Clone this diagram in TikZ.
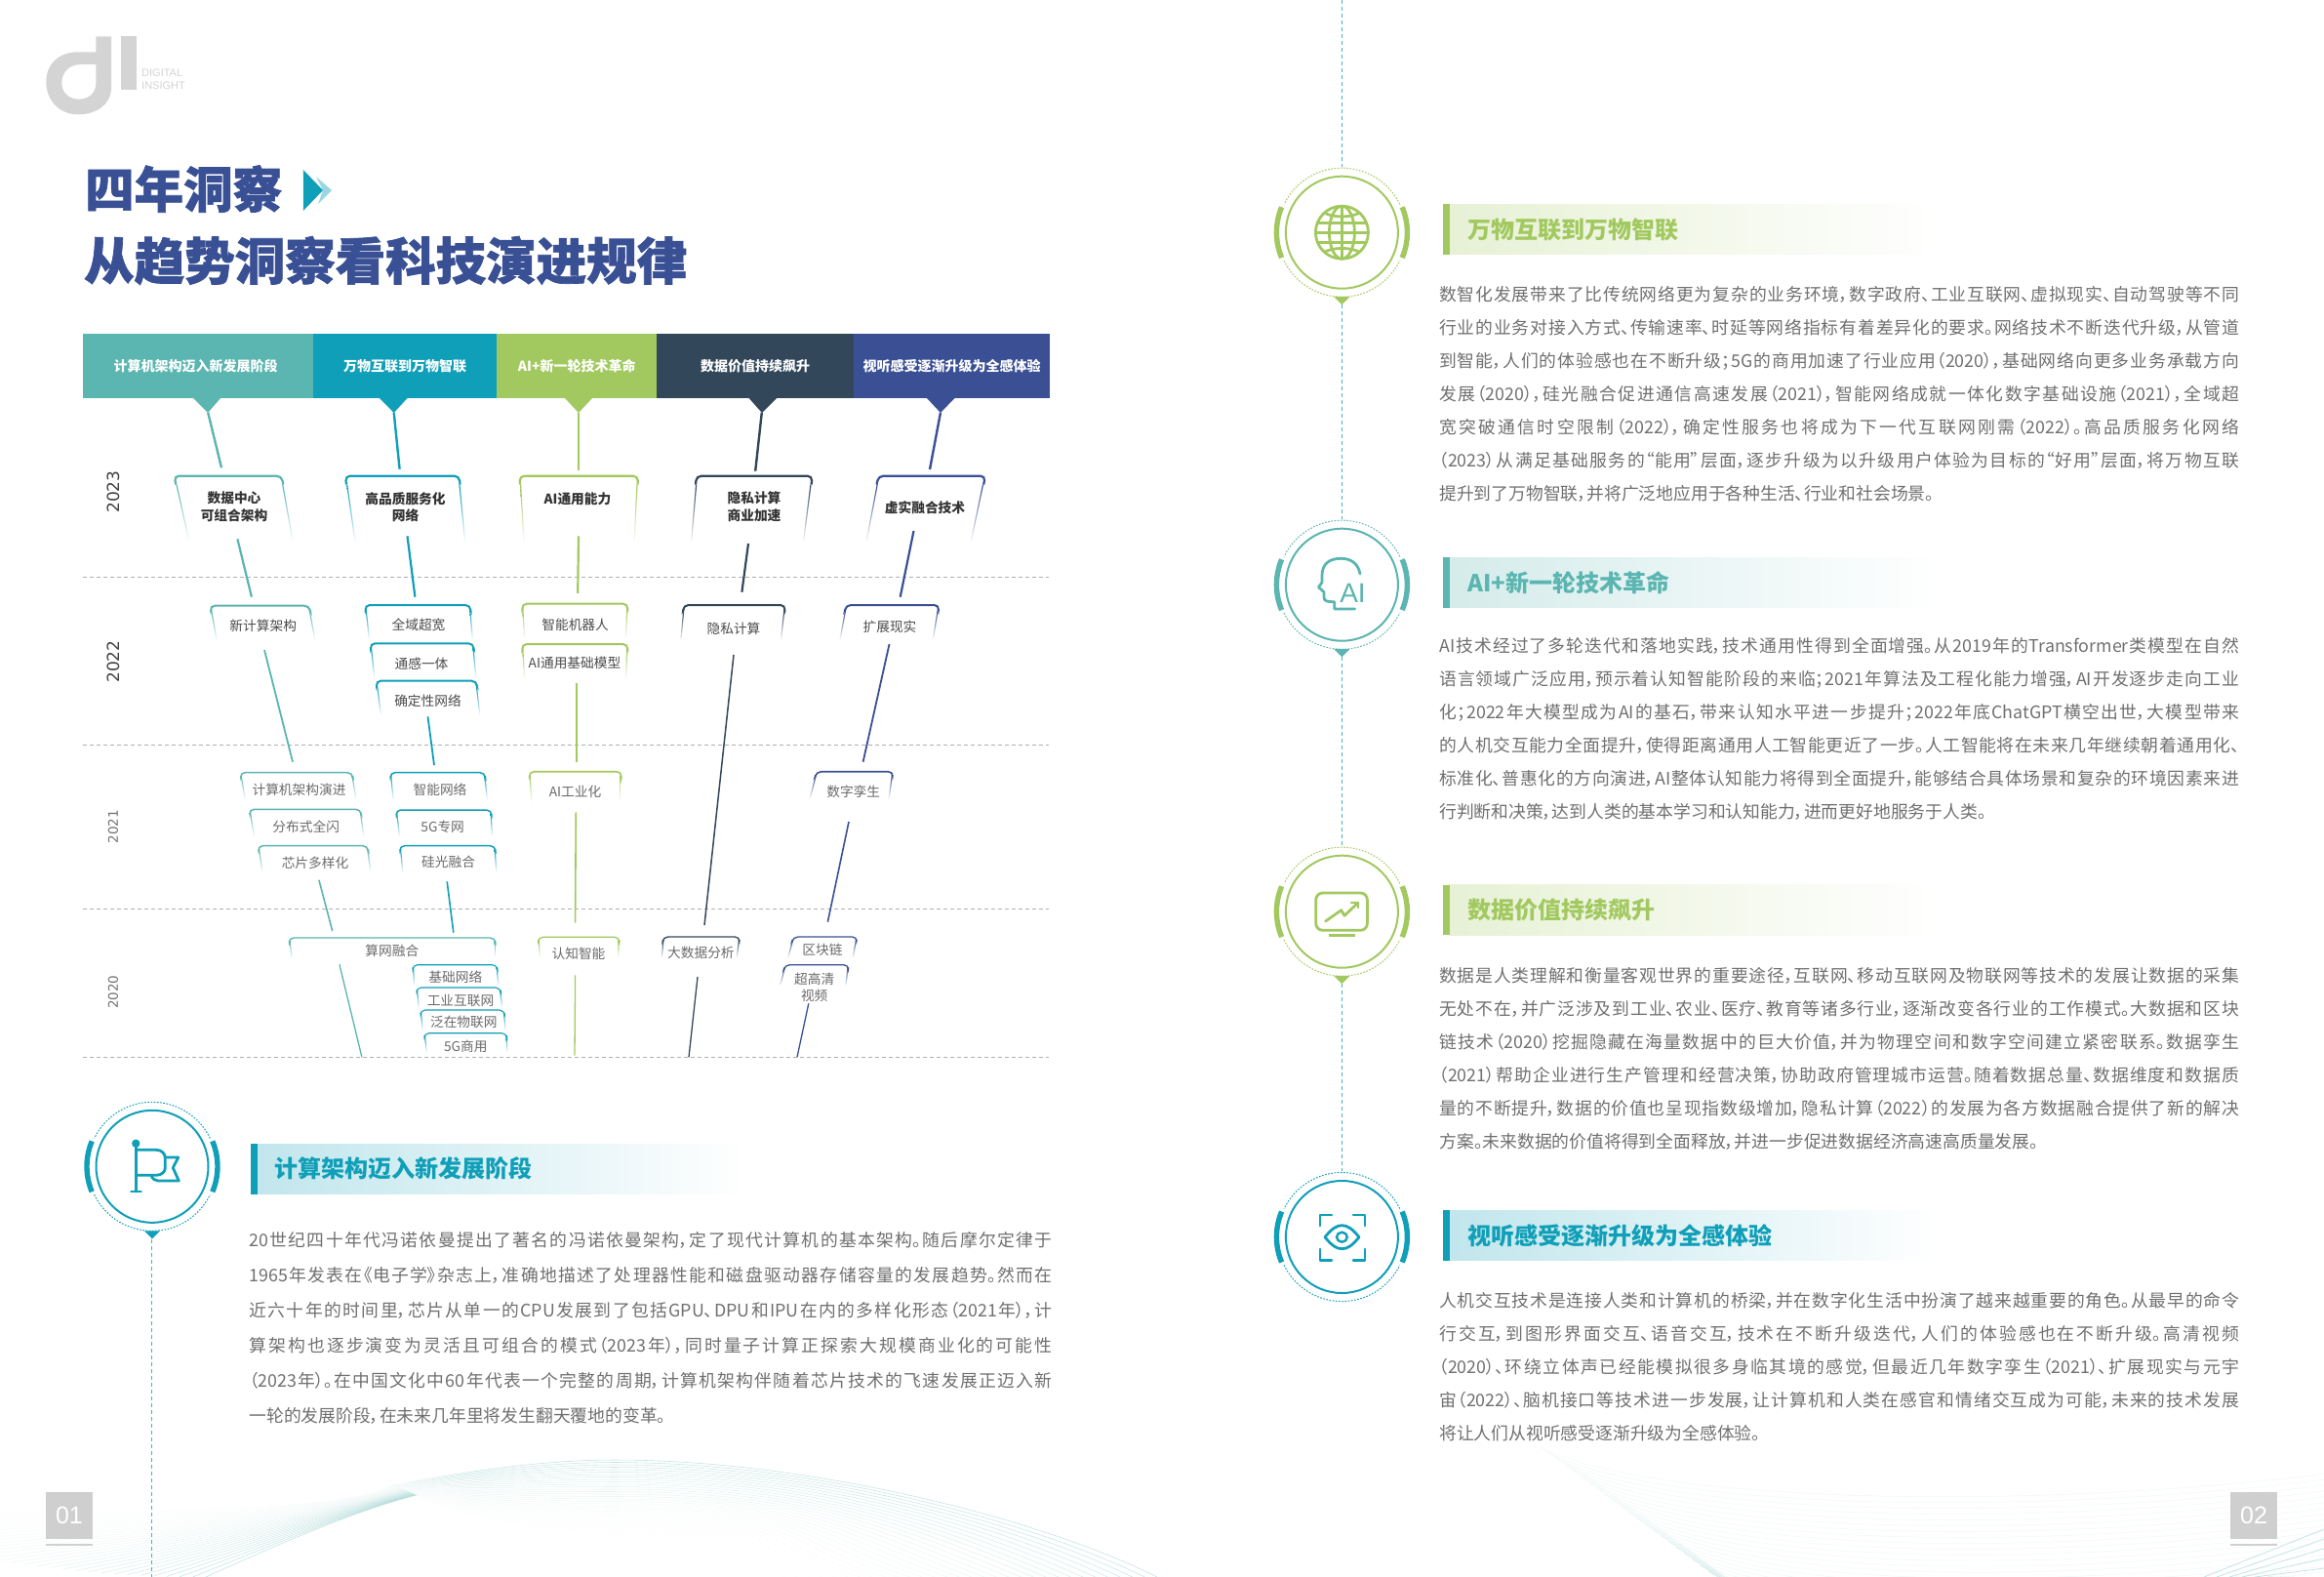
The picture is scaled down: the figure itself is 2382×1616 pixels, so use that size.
\documentclass[tikz,border=0pt]{standalone}
\usepackage{fontspec}
\usetikzlibrary{calc,fadings}
\setmainfont{Noto Sans CJK SC}[RawFeature={+palt}]
\newfontfamily\heavyfont{Noto Sans CJK SC}[BoldFeatures={FakeBold=1.3}]
\newfontfamily\yearfont{DejaVu Sans}
\newfontfamily\latinfont{Liberation Sans}
\XeTeXlinebreaklocale "zh"
\XeTeXlinebreakskip=0pt plus 5pt minus 1pt
\tolerance=10000 \hbadness=10000 \hfuzz=20pt
\definecolor{cA}{HTML}{5BB5B0}
\definecolor{cB}{HTML}{109FB8}
\definecolor{cC}{HTML}{A2C95F}
\definecolor{cD}{HTML}{33475B}
\definecolor{cE}{HTML}{3B5094}
\definecolor{titleblue}{HTML}{3A5095}
\definecolor{logogray}{HTML}{D4D4D4}
\definecolor{numgray}{HTML}{CFCFCF}
\definecolor{gridgray}{HTML}{B0B0B0}
\definecolor{bodygray}{HTML}{707070}
\definecolor{wavec}{HTML}{6FBFBA}
\tikzset{
  x=1pt,y=-1pt,
  hdrbox/.style={anchor=north west,inner sep=0pt,minimum height=66pt,text=white,
     font=\fontsize{14}{17}\selectfont\bfseries},
  tA/.style={align=center,inner sep=0pt,text=black!80,font=\fontsize{13.7}{17.6}\selectfont\bfseries},
  tB/.style={align=center,inner sep=0pt,text=black!70,font=\fontsize{13.7}{17.6}\selectfont},
  tC/.style={align=center,inner sep=0pt,text=black!58,font=\fontsize{13.7}{17}\selectfont},
  yearA/.style={rotate=90,inner sep=0pt,text=black!75,font=\yearfont\fontsize{17}{20}\selectfont},
  yearB/.style={rotate=90,inner sep=0pt,text=black!55,font=\yearfont\fontsize{13.5}{16}\selectfont},
  gridline/.style={gridgray,line width=1.1pt,dash pattern=on 4pt off 3pt},
  bartitle/.style={anchor=west,inner sep=0pt,font=\fontsize{24}{28}\selectfont\bfseries},
  linkdash/.style={line width=1pt,dash pattern=on 4pt off 3pt},
  iconline/.style={line width=2.8pt,line cap=round,line join=round},
  pagenum/.style={fill=numgray,text=white,minimum width=48pt,minimum height=48pt,inner sep=0pt,
     font=\latinfont\fontsize{25}{28}\selectfont},
}
% body text helpers
\newcommand\Ln[1]{\noindent #1\par}
\newcommand\Lt[1]{{\parfillskip=0pt plus 1fil\noindent #1\par}}
\newcommand\para[6]{\node[inner sep=0pt,anchor=base west,text=bodygray] (#1) at (#2,#3)
  {\parbox[t]{#4pt}{\fontsize{17.8}{#5pt}\selectfont\parfillskip=0pt\parskip=0pt\lineskiplimit=-100pt #6}};}
% connector between two named free ends
\newcommand\link[7]{\coordinate (#1a) at (#4,#5); \coordinate (#1b) at (#6,#7);
  \draw[#2,line width=#3pt] (#1a) -- (#1b);}
% card outline: colour, top width, xTL,xTR,yT,xBL,xBR,yB
\newcommand\card[8]{%
  \coordinate (cl) at ($(#3,#5)!0.13!(#6,#8)$);
  \coordinate (cr) at ($(#4,#5)!0.13!(#7,#8)$);
  \shade[top color=#1,bottom color=white] (cl) -- ++(1.2,0) -- (#6+1.2,#8) -- (#6,#8) -- cycle;
  \shade[top color=#1,bottom color=white] (cr) -- ++(-1.2,0) -- (#7-1.2,#8) -- (#7,#8) -- cycle;
  \draw[#1,line width=#2pt,rounded corners=5pt] (cl) -- (#3,#5) -- (#4,#5) -- (cr);
}
% round icon frame
\newcommand\ring[4]{%
  \coordinate (#1) at (#2,#3);
  \draw[#4,line width=2pt] (#1) circle[radius=57.5pt];
  \draw[#4,line width=1pt,dash pattern=on 1.6pt off 1.6pt] ($(#1)+(26:66pt)$) arc[start angle=26,end angle=154,radius=66pt];
  \draw[#4,line width=1pt,dash pattern=on 1.6pt off 1.6pt] ($(#1)+(206:66pt)$) arc[start angle=206,end angle=334,radius=66pt];
  \draw[#4,line width=5.4pt] ($(#1)+(-22.8:67pt)$) arc[start angle=-22.8,end angle=22.8,radius=67pt];
  \draw[#4,line width=5.4pt] ($(#1)+(157.2:67pt)$) arc[start angle=157.2,end angle=202.8,radius=67pt];
}
\newcommand\tip[2]{\fill[#1] ($(#2)+(-8,66)$) -- ($(#2)+(8,66)$) -- ($(#2)+(0,74)$) -- cycle;}
% heading bar
\newcommand\headbar[4]{%
  \shade[left color=#1!26,right color=white] (#2+6,#3) rectangle (#2+510,#3+51.5);
  \fill[#1] (#2,#3) rectangle (#2+7,#3+51.5);
}
\begin{document}
\begin{tikzpicture}
\path[use as bounding box] (0,0) rectangle (2382,1616);
\clip (0,0) rectangle (2382,1616);
\fill[white] (0,0) rectangle (2382,1616);

% ---- background waves, left page: the part right of the pinch
\foreach \t in {0,...,30}{
  \pgfmathsetmacro\u{\t/30}
  \pgfmathsetmacro\opr{0.015+0.42*(1-\u)*(1-\u)}
  \pgfmathsetmacro\Px{415+24*(\u-0.5)}
  \pgfmathsetmacro\Py{1527+10*(\u-0.5)}
  \pgfmathsetmacro\pk{1496+75*\u}
  \pgfmathsetmacro\Ex{1186-380*\u}
  \draw[wavec,line width=0.55pt,opacity=\opr] (\Px,\Py) .. controls (480,1527+0.65*\pk-0.65*1527) and (560,\pk) .. (630,\pk)
     .. controls (830,\pk) and (\Ex-120,1556+30*\u) .. (\Ex,1616);
}
\fill[white,path fading=east] (395,1480) rectangle (490,1575);
% the part left of the pinch
\foreach \t in {0,...,30}{
  \pgfmathsetmacro\u{\t/30}
  \pgfmathsetmacro\opl{0.03+0.42*\u*\u}
  \pgfmathsetmacro\Lx{211-400*(1-\u)}
  \pgfmathsetmacro\Ly{1616-60*(1-\u)*(1-\u)}
  \pgfmathsetmacro\Px{415+24*(\u-0.5)}
  \pgfmathsetmacro\Py{1527+10*(\u-0.5)}
  \draw[wavec,line width=0.55pt,opacity=\opl] (\Px,\Py) .. controls (350+20*\u,1545+\u) and (270+20*\u,1548+32*\u) .. (\Lx,\Ly);
}
% ---- background waves, right page
\foreach \t in {0,...,22}{
  \pgfmathsetmacro\u{\t/22}
  \pgfmathsetmacro\Sx{1579+180*\u}
  \pgfmathsetmacro\Sy{1483+133*\u}
  \pgfmathsetmacro\Ey{1505+130*\u}
  \pgfmathsetmacro\opd{0.02+0.35*\u*\u*\u}
  \draw[wavec,line width=0.55pt,opacity=0.09] (\Sx,\Sy) .. controls (\Sx+130,\Sy+65) and (2150,\Ey+40) .. (2420,\Ey);
  \draw[wavec,line width=0.6pt,opacity=\opd] (\Sx,\Sy) -- ++(48,28);
}
\foreach \t in {0,...,7}{
  \pgfmathsetmacro\bx{2259+13*\t}
  \pgfmathsetmacro\by{1567+10*\t}
  \draw[wavec,line width=0.7pt,opacity=0.45] (\bx,1616) -- (2382,\by);
}

% ---- logo
\fill[logogray,even odd rule] (98.3,37.3) -- (114,37.3) -- (114,92)
   .. controls (113,107) and (99,117.3) .. (80,117.3)
   .. controls (60,117.3) and (47.3,102) .. (47.3,84)
   .. controls (47.3,66) and (60,53.3) .. (80,53.3) -- (98.3,53.3) -- cycle
   (98.3,66) -- (83,66) .. controls (71,66) and (63.3,74) .. (63.3,85)
   .. controls (63.3,95) and (71,101.7) .. (81,101.7)
   .. controls (91,101.7) and (98.3,95) .. (98.3,86) -- cycle;
\fill[logogray] (124,37.3) rectangle (140,91.7);
\node[anchor=west,inner sep=0pt,text=logogray,font=\latinfont\fontsize{11}{13}\selectfont] (logoa) at (145,74.3) {DIGITAL};
\node[anchor=west,inner sep=0pt,text=logogray,font=\latinfont\fontsize{11}{13}\selectfont] (logob) at (145,87.3) {INSIGHT};

% ---- title
\node[anchor=west,inner sep=0pt,text=titleblue,font=\heavyfont\fontsize{50.5}{56}\selectfont\bfseries] (title1) at (87,193.5) {四年洞察};
\node[anchor=west,inner sep=0pt,text=titleblue,font=\heavyfont\fontsize{51.5}{56}\selectfont\bfseries] (title2) at (86,267) {从趋势洞察看科技演进规律};
\fill[cB] (310.8,174) -- (331,195) -- (310.8,216) -- cycle;
\fill[cB!42] (324,181) -- (340,195) -- (326,209) -- (331,195) -- cycle;

% ---- column headers
\node[hdrbox,fill=cA,minimum width=236pt] (h1) at (85,342) {\hspace*{-5pt}计算机架构迈入新发展阶段};
\node[hdrbox,fill=cB,minimum width=188pt] (h2) at (321,342) {万物互联到万物智联};
\node[hdrbox,fill=cC,minimum width=164pt] (h3) at (509,342) {AI+新一轮技术革命};
\node[hdrbox,fill=cD,minimum width=202pt] (h4) at (673,342) {数据价值持续飙升};
\node[hdrbox,fill=cE,minimum width=201pt] (h5) at (875,342) {视听感受逐渐升级为全感体验};
\fill[cA] (198,408) -- (226,408) -- (213,423) -- cycle;
\fill[cB] (389,408) -- (417.5,408) -- (403.7,423) -- cycle;
\fill[cC] (579,408) -- (607,408) -- (593,423) -- cycle;
\fill[cD] (767.6,408) -- (796,408) -- (781,423) -- cycle;
\fill[cE] (950,408) -- (978.5,408) -- (964,423) -- cycle;

% ---- grid lines
\coordinate (g1a) at (85,591.3); \coordinate (g1b) at (1075,591.3);
\coordinate (g2a) at (85,763.3); \coordinate (g2b) at (1075,763.3);
\coordinate (g3a) at (85,931.3); \coordinate (g3b) at (1075,931.3);
\coordinate (g4a) at (85,1083.3); \coordinate (g4b) at (1075,1083.3);
\draw[gridline] (g1a) -- (g1b);
\draw[gridline] (g2a) -- (g2b);
\draw[gridline] (g3a) -- (g3b);
\draw[gridline] (g4a) -- (g4b);

% ---- years
\node[yearA] (y23) at (116,504) {2023};
\node[yearA] (y22) at (116,678) {2022};
\node[yearB] (y21) at (116,847.3) {2021};
\node[yearB] (y20) at (116,1016.7) {2020};

% ---- connectors
\link{a1}{cA}{2.4}{213.2}{422.7}{227}{479.3}
\link{a2}{cB}{2.4}{403.7}{422.7}{409.6}{480.7}
\link{a3}{cC}{2.4}{593}{422.7}{593}{481.7}
\link{a4}{cD}{2.4}{780.8}{422.7}{774.2}{482.7}
\link{a5}{cE}{2.4}{964}{422.7}{953}{481}
\link{b1}{cA}{2.2}{243.4}{552.3}{257.9}{611.7}
\link{b2}{cB}{2.2}{417.5}{549.3}{425.4}{611.7}
\link{b3}{cC}{2.2}{593}{549.3}{592.2}{608}
\link{b4}{cD}{2.2}{767}{557}{760.4}{606.7}
\link{b5}{cE}{2.2}{936.5}{544}{922.7}{611.7}
\link{c1}{cA}{1.8}{271}{666}{300}{780.7}
\link{c2}{cB}{1.8}{438.5}{734.3}{445}{784}
\link{c3}{cC}{1.8}{591}{700}{591}{780.7}
\link{c4}{cD}{1.5}{752}{671}{722}{948}
\link{c5}{cE}{1.8}{911.5}{660}{884.6}{780.7}
\link{d1}{cA}{1.6}{326.9}{901.7}{340.7}{954}
\link{d2}{cB}{1.6}{458.2}{903.3}{464.8}{955.7}
\link{d3}{cC}{1.6}{590.3}{832.3}{589.6}{945.7}
\link{d5}{cE}{1.6}{870}{842}{848.4}{944.7}
\link{e1}{cA}{1.3}{347.9}{988.3}{370.9}{1083.3}
\link{e3}{cC}{1.3}{589.6}{999.3}{589}{1081.7}
\link{e4}{cD}{1.3}{715}{1001}{706}{1083.3}
\link{e5}{cE}{1.3}{828.8}{1028.3}{817}{1083.3}

% ---- 2023 cards
\card{cA}{2.2}{178.4}{288.7}{487.7}{193.5}{301}{556}
\card{cB}{2.2}{353.8}{470.7}{487.7}{363.6}{477.3}{556}
\card{cC}{2.2}{532.5}{654}{487.7}{536.4}{650.7}{556}
\card{cD}{2.2}{713.8}{832.7}{487.7}{707.9}{824}{556}
\card{cE}{2.2}{900.3}{1010}{487.7}{887.2}{995.6}{556}
\node[tA] (n11) at (240,519.5) {数据中心\\可组合架构};
\node[tA] (n12) at (415.5,519.5) {高品质服务化\\网络};
\node[tA] (n13) at (592,511.5) {AI通用能力};
\node[tA] (n14) at (773,519.5) {隐私计算\\商业加速};
\node[tA] (n15) at (948,520.5) {虚实融合技术};

% ---- 2022 cards
\card{cA}{2}{215.2}{317}{620.7}{221.7}{323.6}{656.7}
\card{cB}{2}{374}{482}{620}{378}{485}{655.7}
\card{cB}{2}{379.4}{485.2}{659.3}{383.3}{488.4}{695}
\card{cB}{2}{385.3}{488.4}{697.7}{390}{492.4}{733.3}
\card{cC}{2}{535}{643.5}{618.7}{537}{642}{655}
\card{cC}{2}{535}{643.5}{660}{537}{642}{696.7}
\card{cD}{2}{700.6}{805}{620}{697.3}{801}{656}
\card{cE}{2}{867}{962.7}{620}{860.3}{956.8}{656}
\node[tB] (n21) at (269.7,641.5) {新计算架构};
\node[tB] (n22) at (429,640) {全域超宽};
\node[tB] (n23) at (432,680) {通感一体};
\node[tB] (n24) at (438.5,718.5) {确定性网络};
\node[tB] (n25) at (589.6,640) {智能机器人};
\node[tB] (n26) at (589,679.5) {AI通用基础模型};
\node[tB] (n27) at (752,644) {隐私计算};
\node[tB] (n28) at (912,642.5) {扩展现实};

% ---- 2021 cards
\card{cA}{1.5}{246}{361}{791.7}{250.7}{365.6}{819.3}
\card{cA}{1.5}{255.3}{369.6}{829.3}{260}{373.5}{857.3}
\card{cA}{1.5}{264.4}{376.8}{866.7}{268.4}{380.7}{894.3}
\card{cB}{1.5}{399.8}{497}{791.7}{402.4}{500}{819.3}
\card{cB}{1.5}{405.7}{503.6}{830}{409}{505}{857.3}
\card{cB}{1.5}{409.6}{507.5}{866.7}{412.3}{509.5}{894.3}
\card{cC}{1.6}{542.3}{637}{790.7}{544.3}{636.3}{821.7}
\card{cE}{1.6}{836.7}{915.5}{790.7}{829.4}{911.6}{819}
\node[tC] (n31) at (306.5,809.5) {计算机架构演进};
\node[tC] (n32) at (313.7,847.5) {分布式全闪};
\node[tC] (n33) at (323,884.5) {芯片多样化};
\node[tC] (n34) at (451,809.5) {智能网络};
\node[tC] (n35) at (453.7,847.5) {5G专网};
\node[tC] (n36) at (459.6,883.5) {硅光融合};
\node[tC] (n37) at (589.6,811.5) {AI工业化};
\node[tC] (n38) at (874.7,811.5) {数字孪生};

% ---- 2020 cards
\card{cA}{1.4}{296}{507.5}{961}{298.6}{508.8}{982.3}
\card{cB}{1.1}{422.8}{509.5}{988.7}{424}{511.5}{1010}
\card{cB}{1.1}{426.7}{512.8}{1012}{428.7}{515.4}{1032.7}
\card{cB}{1.1}{430.7}{516.8}{1035}{432.6}{518.7}{1056}
\card{cB}{1.1}{434.6}{519.4}{1058.7}{436.6}{520.7}{1078.3}
\card{cC}{1.3}{551.5}{635}{960.3}{552.8}{634.3}{981.7}
\card{cD}{1.3}{679.6}{758.4}{960}{677.7}{755.8}{981.7}
\card{cE}{1.3}{813}{878.7}{960}{807}{874.7}{981.7}
\card{cE}{1.3}{804.5}{870}{988.7}{799}{867.5}{1010}
\node[tC] (n41) at (401.8,974.5) {算网融合};
\node[tC] (n42) at (466.8,1001.5) {基础网络};
\node[tC] (n43) at (472,1025) {工业互联网};
\node[tC] (n44) at (475.3,1047.5) {泛在物联网};
\node[tC] (n45) at (477.3,1072.5) {5G商用};
\node[tC] (n46) at (593,977.5) {认知智能};
\node[tC] (n47) at (718.4,976.5) {大数据分析};
\node[tC] (n48) at (843,973.5) {区块链};
\node[tC] (n49) at (834.7,1011.5) {超高清\\视频};

% ---- left section
\ring{ic1}{156}{1195.3}{cB}{}
\tip{cB}{ic1}
\coordinate (ld1) at (155.7,1270); \coordinate (ld2) at (155.7,1616);
\draw[cB!80,linkdash] (ld1) -- (ld2);
\draw[cB,iconline] (139.3,1172) -- (139.3,1221);
\fill[cB] (139.3,1171.7) circle[radius=4.2pt];
\draw[cB,iconline] (134.5,1221) -- (144.5,1221);
\draw[cB,iconline] (139.3,1178.3) -- (160,1178.3) .. controls (165.5,1178.3) and (169.3,1182) .. (169.3,1186.7)
   -- (169.3,1196.7) .. controls (169.3,1201) and (165.5,1204.3) .. (160,1204.3) -- (139.3,1204.3);
\draw[cB,iconline] (169.3,1186) -- (182.7,1186) -- (177.3,1196.7) -- (183.3,1210) -- (161.7,1210) .. controls (158.5,1210) and (156,1207.5) .. (155,1204.3);
\headbar{cB}{256.6}{1172}{}
\node[bartitle,text=cB] (bt1) at (281.5,1197.3) {计算架构迈入新发展阶段};
\para{body1}{255.3}{1277.5}{823}{36}{%
\Ln{20世纪四十年代冯诺依曼提出了著名的冯诺依曼架构，定了现代计算机的基本架构。随后摩尔定律于}
\Ln{1965年发表在《电子学》杂志上，准确地描述了处理器性能和磁盘驱动器存储容量的发展趋势。然而在}
\Ln{近六十年的时间里，芯片从单一的CPU发展到了包括GPU、DPU和IPU在内的多样化形态（2021年），计}
\Ln{算架构也逐步演变为灵活且可组合的模式（2023年），同时量子计算正探索大规模商业化的可能性}
\Ln{（2023年）。在中国文化中60年代表一个完整的周期，计算机架构伴随着芯片技术的飞速发展正迈入新}
\Lt{一轮的发展阶段，在未来几年里将发生翻天覆地的变革。}}

% ---- right column spine
\ring{ic2}{1375.4}{238.2}{cC}{}
\ring{ic3}{1375.4}{599.2}{cA}{}
\ring{ic4}{1375.4}{934.2}{cC}{}
\ring{ic5}{1375.4}{1267.5}{cB}{}
\tip{cC}{ic2}
\tip{cA}{ic3}
\tip{cC}{ic4}
\coordinate (sp0) at (1375.4,0); \coordinate (sp1) at (1375.4,171);
\coordinate (sp2) at (1375.4,312); \coordinate (sp3) at (1375.4,532);
\coordinate (sp4) at (1375.4,673); \coordinate (sp5) at (1375.4,867);
\coordinate (sp6) at (1375.4,1008); \coordinate (sp7) at (1375.4,1200);
\draw[cB!80,linkdash] (sp0) -- (sp1);
\draw[cB!80,linkdash] (sp2) -- (sp3);
\draw[cB!80,linkdash] (sp4) -- (sp5);
\draw[cB!80,linkdash] (sp6) -- (sp7);

% globe icon
\draw[cC,iconline] (ic2) circle[radius=27pt];
\draw[cC,iconline] (ic2) ellipse[x radius=13pt,y radius=27pt];
\draw[cC,iconline] ($(ic2)+(0,-27)$) -- ($(ic2)+(0,27)$);
\draw[cC,iconline] ($(ic2)+(-27,0)$) -- ($(ic2)+(27,0)$);
\draw[cC,iconline] ($(ic2)+(-25,-10)$) -- ($(ic2)+(25,-10)$);
\draw[cC,iconline] ($(ic2)+(-25,10)$) -- ($(ic2)+(25,10)$);
\draw[cC,iconline] ($(ic2)+(-18,-20)$) .. controls ($(ic2)+(-8,-15)$) and ($(ic2)+(8,-15)$) .. ($(ic2)+(18,-20)$);
\draw[cC,iconline] ($(ic2)+(-18,20)$) .. controls ($(ic2)+(-8,15)$) and ($(ic2)+(8,15)$) .. ($(ic2)+(18,20)$);

% AI head icon
\draw[cA,iconline] (1394,588) .. controls (1392,577) and (1384,572.3) .. (1374.7,572.3)
  .. controls (1362,572.3) and (1355,578) .. (1355,590) -- (1355,596.7) -- (1351.5,601.7) -- (1357,606.7) -- (1357,612)
  .. controls (1357,616) and (1360,616.7) .. (1367.7,616.7) -- (1367.7,624) -- (1388.7,624);
\node[inner sep=0pt,text=cA,font=\latinfont\fontsize{28}{30}\selectfont] (aitext) at (1386.5,608) {AI};

% chart icon
\draw[cC,iconline,rounded corners=7pt] (1348.7,915) rectangle (1401.4,953.3);
\draw[cC,line width=3.4pt] (1362,958.3) -- (1388.7,958.3);
\draw[cC,iconline] (1358.6,944) -- (1374.7,932.7) -- (1378,938.3) -- (1392,925);
\draw[cC,iconline] (1385,925) -- (1392,925) -- (1392,930);

% eye icon
\draw[cB,iconline] (1353,1256) -- (1353,1245) -- (1365,1245);
\draw[cB,iconline] (1387,1245) -- (1399,1245) -- (1399,1256);
\draw[cB,iconline] (1353,1280) -- (1353,1291.7) -- (1365,1291.7);
\draw[cB,iconline] (1387,1291.7) -- (1399,1291.7) -- (1399,1280);
\draw[cB,iconline] (1358,1267.7) .. controls (1365,1259) and (1370,1255.7) .. (1375.4,1255.7)
  .. controls (1381,1255.7) and (1386,1259) .. (1393,1267.7)
  .. controls (1386,1276.4) and (1381,1279.7) .. (1375.4,1279.7)
  .. controls (1370,1279.7) and (1365,1276.4) .. (1358,1267.7) -- cycle;
\draw[cB,line width=2.4pt] (1375.4,1267.7) ellipse[x radius=5.4pt,y radius=5pt];

% ---- right sections
\headbar{cC}{1479}{209.3}{}
\node[bartitle,text=cC] (bt2) at (1504.5,235) {万物互联到万物智联};
\para{body2}{1475}{308}{820}{34}{%
\Ln{数智化发展带来了比传统网络更为复杂的业务环境，数字政府、工业互联网、虚拟现实、自动驾驶等不同}
\Ln{行业的业务对接入方式、传输速率、时延等网络指标有着差异化的要求。网络技术不断迭代升级，从管道}
\Ln{到智能，人们的体验感也在不断升级；5G的商用加速了行业应用（2020），基础网络向更多业务承载方向}
\Ln{发展（2020），硅光融合促进通信高速发展（2021），智能网络成就一体化数字基础设施（2021），全域超}
\Ln{宽突破通信时空限制（2022），确定性服务也将成为下一代互联网刚需（2022）。高品质服务化网络}
\Ln{（2023）从满足基础服务的“能用”层面，逐步升级为以升级用户体验为目标的“好用”层面，将万物互联}
\Lt{提升到了万物智联，并将广泛地应用于各种生活、行业和社会场景。}}

\headbar{cA}{1479}{571}{}
\node[bartitle,text=cA] (bt3) at (1504.5,596.7) {AI+新一轮技术革命};
\para{body3}{1475}{668.7}{820}{34}{%
\Ln{AI技术经过了多轮迭代和落地实践，技术通用性得到全面增强。从2019年的Transformer类模型在自然}
\Ln{语言领域广泛应用，预示着认知智能阶段的来临；2021年算法及工程化能力增强，AI开发逐步走向工业}
\Ln{化；2022年大模型成为AI的基石，带来认知水平进一步提升；2022年底ChatGPT横空出世，大模型带来}
\Ln{的人机交互能力全面提升，使得距离通用人工智能更近了一步。人工智能将在未来几年继续朝着通用化、}
\Ln{标准化、普惠化的方向演进，AI整体认知能力将得到全面提升，能够结合具体场景和复杂的环境因素来进}
\Lt{行判断和决策，达到人类的基本学习和认知能力，进而更好地服务于人类。}}

\headbar{cC}{1479}{906.5}{}
\node[bartitle,text=cC] (bt4) at (1504.5,932.5) {数据价值持续飙升};
\para{body4}{1475}{1006.5}{820}{34}{%
\Ln{数据是人类理解和衡量客观世界的重要途径，互联网、移动互联网及物联网等技术的发展让数据的采集}
\Ln{无处不在，并广泛涉及到工业、农业、医疗、教育等诸多行业，逐渐改变各行业的工作模式。大数据和区块}
\Ln{链技术（2020）挖掘隐藏在海量数据中的巨大价值，并为物理空间和数字空间建立紧密联系。数据孪生}
\Ln{（2021）帮助企业进行生产管理和经营决策，协助政府管理城市运营。随着数据总量、数据维度和数据质}
\Ln{量的不断提升，数据的价值也呈现指数级增加，隐私计算（2022）的发展为各方数据融合提供了新的解决}
\Lt{方案。未来数据的价值将得到全面释放，并进一步促进数据经济高速高质量发展。}}

\headbar{cB}{1479}{1240}{}
\node[bartitle,text=cB] (bt5) at (1504.5,1266.3) {视听感受逐渐升级为全感体验};
\para{body5}{1475}{1339}{820}{34}{%
\Ln{人机交互技术是连接人类和计算机的桥梁，并在数字化生活中扮演了越来越重要的角色。从最早的命令}
\Ln{行交互，到图形界面交互、语音交互，技术在不断升级迭代，人们的体验感也在不断升级。高清视频}
\Ln{（2020）、环绕立体声已经能模拟很多身临其境的感觉，但最近几年数字孪生（2021）、扩展现实与元宇}
\Ln{宙（2022）、脑机接口等技术进一步发展，让计算机和人类在感官和情绪交互成为可能，未来的技术发展}
\Lt{将让人们从视听感受逐渐升级为全感体验。}}

% ---- page numbers
\node[pagenum] (p1) at (71,1553) {01};
\node[pagenum] (p2) at (2310,1553) {02};
\fill[numgray] (47,1581.7) rectangle (95,1584);
\fill[numgray] (2286,1581.7) rectangle (2334,1584);
\end{tikzpicture}
\end{document}
